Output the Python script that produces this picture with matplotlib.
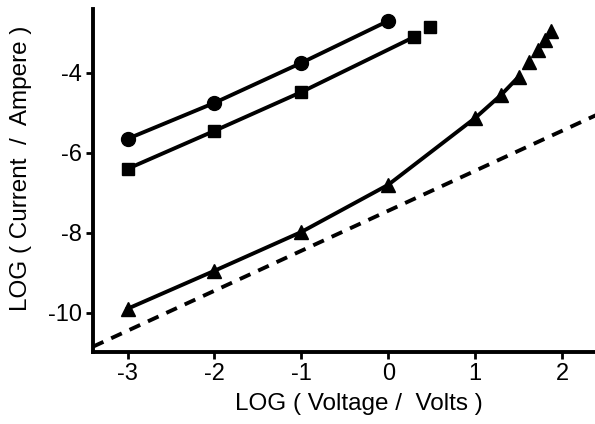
import numpy as np
import matplotlib.pyplot as plt

plt.rcParams['font.family'] = ['Liberation Sans', 'DejaVu Sans']
plt.rcParams['axes.unicode_minus'] = False

# circles
x_circ = [-3, -2, -1, 0]
y_circ = [-5.65, -4.75, -3.75, -2.7]

# squares (connected) plus one lone square
x_sq = [-3, -2, -1, 0.3]
y_sq = [-6.4, -5.45, -4.48, -3.1]
x_sq_lone = [0.48]
y_sq_lone = [-2.85]

# triangles
x_tri = [-3, -2, -1, 0, 1, 1.3, 1.5, 1.62, 1.72, 1.8, 1.87]
y_tri = [-9.9, -8.95, -7.98, -6.8, -5.13, -4.55, -4.1, -3.73, -3.43, -3.18, -2.95]

# dashed reference line
x_dash = [-3.4, 2.4]
y_dash = [-10.85, -5.05]

fig = plt.figure(figsize=(5.95, 4.24), dpi=100)
ax = fig.add_axes([0.156, 0.170, 0.844, 0.809])

lw = 2.8
ax.plot(x_dash, y_dash, color='black', lw=lw, linestyle=(0, (3, 2.2)))
ax.plot(x_circ, y_circ, color='black', lw=lw, marker='o', markersize=10)
ax.plot(x_sq, y_sq, color='black', lw=lw, marker='s', markersize=8)
ax.plot(x_sq_lone, y_sq_lone, color='black', lw=0, marker='s', markersize=8)
ax.plot(x_tri[:7], y_tri[:7], color='black', lw=lw)
ax.plot(x_tri, y_tri, color='black', lw=0, marker='^', markersize=10)

ax.set_xlim(-3.4, 2.38)
ax.set_ylim(-10.98, -2.4)
ax.set_xticks([-3, -2, -1, 0, 1, 2])
ax.set_yticks([-10, -8, -6, -4])

for s in ['top', 'right']:
    ax.spines[s].set_visible(False)
for s in ['left', 'bottom']:
    ax.spines[s].set_linewidth(2.8)
ax.tick_params(width=2, length=5, labelsize=17, pad=3)

ax.set_xlabel('LOG ( Voltage /  Volts )', fontsize=17.5)
ax.set_ylabel('LOG ( Current  /  Ampere )', fontsize=17.5)
ax.xaxis.set_label_coords(0.53, -0.12)
ax.yaxis.set_label_coords(-0.122, 0.534)

fig.savefig('out.png', dpi=100)
